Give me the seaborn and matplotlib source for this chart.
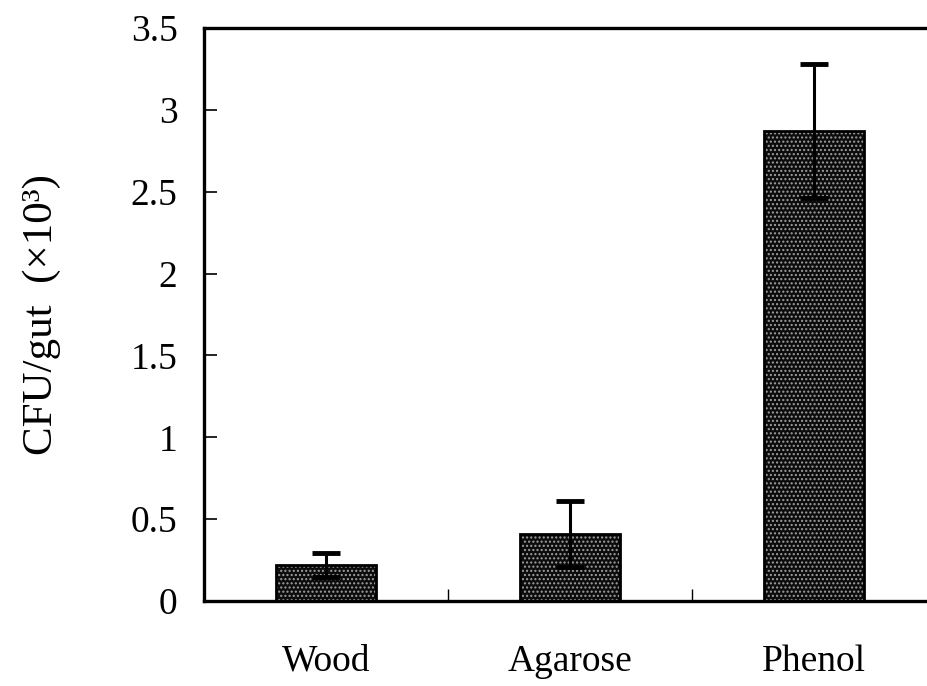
import matplotlib
matplotlib.use("Agg")
import matplotlib.pyplot as plt
from matplotlib.ticker import FixedLocator
import seaborn as sns
import pandas as pd

# Colony counts per gut for each diet substrate (×10^3 CFU)
categories = ["Wood", "Agarose", "Phenol"]
cfu_means = [0.22, 0.41, 2.87]
cfu_errors = [0.075, 0.20, 0.41]
y_ticks = [0, 0.5, 1, 1.5, 2, 2.5, 3, 3.5]
y_tick_labels = ["0", "0.5", "1", "1.5", "2", "2.5", "3", "3.5"]

sns.set_theme(style="ticks")
plt.rcParams["font.family"] = ["Liberation Serif", "DejaVu Serif"]
plt.rcParams["text.color"] = "black"
plt.rcParams["axes.labelcolor"] = "black"
plt.rcParams["xtick.color"] = "black"
plt.rcParams["ytick.color"] = "black"
plt.rcParams["hatch.linewidth"] = 1.0

df = pd.DataFrame({"substrate": categories, "cfu": cfu_means})

fig = plt.figure(figsize=(9.27, 6.86), dpi=100)
ax = fig.add_axes([204 / 927, 85 / 686, 732 / 927, 573 / 686])

# stippled fill: dark face with light dot hatch
sns.barplot(data=df, x="substrate", y="cfu", order=categories,
            color="#0c0c0c", saturation=1, width=0.41, errorbar=None,
            edgecolor="#a0a0a0", linewidth=0, hatch="....", ax=ax)
# solid black outlines on top
sns.barplot(data=df, x="substrate", y="cfu", order=categories,
            fill=False, width=0.41, errorbar=None,
            edgecolor="black", linewidth=2.0, ax=ax)

centers = [p.get_x() + p.get_width() / 2 for p in ax.patches[:len(categories)]]
ax.errorbar(centers, cfu_means, yerr=cfu_errors, fmt="none", ecolor="black",
            elinewidth=2.2, capsize=10, capthick=3.5, zorder=5)

ax.set_xlim(-0.5, 2.5)
ax.set_ylim(0, 3.5)
ax.set_yticks(y_ticks)
ax.set_yticklabels(y_tick_labels, fontsize=27)
ax.xaxis.set_minor_locator(FixedLocator([0.5, 1.5]))
ax.tick_params(axis="x", which="major", length=0, pad=31, labelsize=27)
ax.tick_params(axis="x", which="minor", direction="in", length=9, width=1.0)
ax.tick_params(axis="y", which="major", direction="in", length=9, width=1.2, pad=19)

ax.set_xlabel("")
ax.set_ylabel("CFU/gut  (×10³)", fontsize=31)
ax.yaxis.set_label_coords(-0.196, 0.5)

for side in ["left", "top", "bottom"]:
    ax.spines[side].set_linewidth(2.4)
    ax.spines[side].set_color("black")
ax.spines["right"].set_visible(False)

fig.savefig("out.png", dpi=100, facecolor="white")
